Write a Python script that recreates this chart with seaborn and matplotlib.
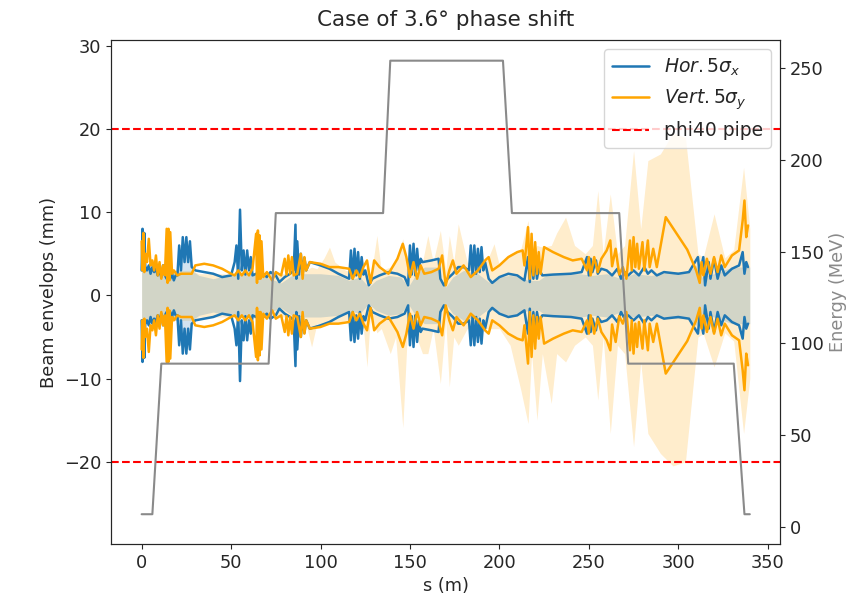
import numpy as np
import matplotlib
matplotlib.use('Agg')
import matplotlib.pyplot as plt
import seaborn as sns

sns.set_style('ticks')
plt.rcParams['font.family'] = ['DejaVu Sans']
plt.rcParams['font.size'] = 12.8

# horizontal envelope, 5 sigma_x (mm), upper half
s_hor = [0, 0.5, 1, 1.5, 2, 3, 4, 5, 6, 7, 8, 9, 10, 11, 12, 13, 14, 15, 16, 17, 18, 19, 20,
         21, 22, 23, 24, 25, 26, 27, 28, 30, 35, 40, 45, 50,
         52, 53, 54, 55, 56, 57, 58, 59, 60, 61, 62, 64, 66, 68, 70, 72, 75, 77, 80, 83, 85,
         86, 86.5, 87, 88, 89, 90, 91, 92, 94, 100, 105, 110, 116,
         117, 118, 119, 120, 121, 122, 123, 124, 125, 127, 129, 133, 138, 143, 147, 149,
         150, 151, 152, 153, 154, 155, 156, 157, 162, 166, 167, 169, 171, 174, 177, 180, 183,
         184, 185, 186, 187, 188, 189, 190, 191, 192, 194, 196, 200, 205, 210, 214,
         216, 217, 218, 219, 220, 221, 222, 224, 230, 240, 246,
         249, 250, 251, 252, 254, 255, 257, 260, 263, 266, 268, 270, 272, 275, 278, 281, 283, 285, 288, 292, 300, 306,
         311, 312, 314, 315, 317, 318, 320, 322, 324, 326, 330, 334, 336, 337, 338, 339]
hor = [3, 8, 3, 7.5, 3.5, 3, 3.6, 2.6, 3.4, 2.8, 3.2, 2.4, 3, 2.2, 3.6, 2.4, 2, 3, 2, 2.6, 1.8, 2.4, 2.4,
       6, 3, 7, 4, 7, 4, 6.5, 3.4, 3, 2.8, 2.6, 2.2, 2.4,
       4, 6, 2, 10.3, 3, 5.4, 2.5, 5.4, 3, 4.6, 2.4, 2.6, 2.4, 2.6, 2.2, 2.8, 2.4, 1.6, 2.2, 2.6, 3,
       8.5, 2, 6.5, 2.5, 5, 2.5, 4.5, 3, 4, 3.6, 3.2, 2.6, 2,
       5.4, 2, 5.6, 2.4, 5.2, 2, 4.6, 2.5, 3, 1.2, 2, 2.4, 2.8, 2.6, 2.2, 1.2,
       6, 2.5, 6.2, 2.4, 5.6, 3, 4.4, 4, 4.2, 4.4, 2, 1.2, 2, 2.6, 3.4, 3.4, 3,
       6, 2.5, 6, 2.6, 5.6, 2.8, 5.8, 3, 4, 2, 1.5, 2.2, 2.6, 2.4, 1.8,
       4.6, 1.6, 5.4, 2, 4.8, 2, 3.2, 2.4, 2.5, 2.6, 2.8,
       4.6, 2.4, 4.4, 2.8, 4.2, 2.6, 3.2, 3, 2.4, 3.2, 2, 2.8, 2.4, 3, 2.4, 3.4, 2.6, 3, 2.4, 2.8, 2.6, 2.8,
       4.6, 2.4, 4.6, 1.2, 4, 2, 4.4, 2, 3.6, 2.4, 3.2, 3.6, 5.2, 2.6, 4, 3.4]

# vertical envelope, 5 sigma_y (mm), upper half
s_vert = [0, 0.5, 1, 1.5, 2, 3, 4, 5, 6, 7, 8, 9, 10, 11, 12, 13,
          14, 14.5, 15, 15.5, 16, 17, 18, 20, 22, 25, 28, 30, 35, 40, 45, 50, 52, 54, 56, 58, 60, 62,
          64, 64.5, 65, 65.5, 66, 66.5, 67, 68, 70, 73, 75, 78, 80, 81, 82, 83, 84, 85, 87, 89, 90, 91, 92, 94,
          100, 105, 110, 116, 118, 120, 122, 124, 126, 128, 130, 133, 138, 143, 146, 148, 150, 152, 154, 156,
          158, 162, 166, 168, 170, 172, 174, 176, 180, 184, 188, 192, 194, 196, 200, 205, 210, 213, 214,
          216, 217, 218, 219, 220, 221, 222, 223, 225, 230, 236, 241, 246, 249, 250, 251, 253, 255, 257, 260,
          262, 263, 265, 267, 269, 271, 273, 274, 275, 276, 277, 278, 280, 281, 283, 284, 286, 288, 293,
          305, 310, 312, 313, 314, 316, 318, 320, 322, 324, 326, 330, 334, 336, 337, 338, 339]
vert = [6.5, 3, 7.5, 2.8, 5, 4, 6.8, 3.6, 4.2, 3, 4.8, 2.4, 4, 2, 3.6, 2.4,
        8, 1.5, 8, 1.8, 7.6, 2.6, 3, 2.4, 2.6, 2.6, 2.6, 3.6, 3.8, 3.6, 3.2, 2.6, 2.4, 3, 2.4, 3, 2.4, 3.2,
        7.4, 1.5, 7.8, 2, 7.2, 2, 6.5, 2.2, 2.8, 1.8, 2.8, 2.4, 4.4, 2.5, 4.8, 2.6, 4.6, 2.4, 2.6, 5, 2, 4.6, 3, 4,
        3.8, 3.4, 3.4, 3.2, 2, 3, 2.2, 3.4, 4.2, 1.5, 4.2, 3.4, 2.6, 4.4, 6.2, 4.6, 2.2, 4, 2, 3.6,
        2.6, 2.8, 3.2, 4.8, 1.2, 3, 4.2, 2.6, 3.6, 2.2, 3, 4.2, 4.6, 3, 3.6, 4.6, 5.2, 5.4, 3.6,
        8.2, 2, 7.4, 2.4, 6.4, 2.6, 5.2, 2.6, 5.8, 5.2, 4.6, 4.2, 4.4, 3, 4.6, 2.4, 4.6, 2.8, 4.4, 5.4,
        6.6, 3.5, 5.6, 2.5, 3.4, 2, 6.6, 3, 7, 3.4, 6.2, 3.2, 6.4, 3, 6.6, 3.4, 5.6, 3.4, 9.4,
        5.5, 3, 1.5, 4, 2.4, 4.4, 2.6, 4.6, 2.8, 4.8, 3.4, 4.8, 5.4, 9, 11.4, 7, 8.4]

# core of the horizontal distribution (blue shade), half width in mm
s_core = [0, 20, 21, 23, 26, 28, 32, 40, 48, 55, 65, 72, 78, 84, 90, 100, 110, 116, 122, 127,
          131, 138, 145, 149, 153, 158, 165, 168, 170, 174, 180, 188, 194, 200, 206, 212, 216, 222, 226, 235,
          245, 252, 260, 268, 275, 285, 295, 305, 310, 313, 320, 330, 340]
core = [3, 3, 3.2, 5.5, 5.5, 3, 2.4, 2, 2.4, 2.6, 2.6, 2, 1.5, 2.4, 2.6, 2.6, 2.4, 1.8, 2.2, 1,
        1.8, 2.4, 2.2, 1, 2.4, 3.4, 3.4, 1.6, 1, 2.2, 3, 2.6, 1.6, 2.2, 2.4, 2.2, 1.8, 1.8, 2.4, 2.6,
        2.6, 2.4, 2.6, 2, 2.6, 2.4, 2.8, 2.8, 3.6, 2.2, 2.6, 3.4, 3.4]

# vertical spread over the error runs (light orange shade)
s_band = [0, 20, 28, 32, 50, 60, 70, 80, 88, 92, 95, 98, 102, 105, 108, 114, 120, 124, 126, 128,
          131.5, 134, 139, 142, 146, 149, 152, 157, 160, 163, 167, 170, 172, 174.5, 177, 182, 188, 194, 197, 200,
          206, 212, 216, 218, 221, 224, 229, 232, 237, 242, 248, 252, 255, 258, 262, 266, 270, 275, 279, 283,
          290, 297, 304, 311, 314, 320, 326, 331, 336.5, 340]
band_hi = [3, 3, 3, 2.6, 2.6, 2.8, 2.6, 2.6, 3, 3, 3.4, 3.2, 4.5, 5.8, 4, 3, 2.8, 3, 3.4, 2,
           7.2, 3, 3.4, 4, 6.8, 2.5, 3, 4, 7.2, 4, 7.8, 3, 7.2, 4, 8.6, 4, 3.6, 4.6, 6.2, 3.6,
           5, 5.6, 9, 5, 6, 5.8, 6, 7.5, 9.4, 6, 5, 6, 12.6, 5, 12.2, 5, 6, 17.4, 8, 16.2,
           17, 19.5, 19, 5, 4.6, 9.8, 4.5, 5.5, 15.4, 8]
band_lo = [-3, -3, -3, -2.6, -2.6, -2.8, -2.6, -2.6, -3, -3.5, -6.2, -3.4, -3.5, -3.5, -3.4, -3, -3, -4, -8.6, -2,
           -4.5, -4, -7, -5, -15.9, -2.5, -4, -7, -7, -4, -10.6, -3, -11, -5, -6, -4, -4, -4, -4, -4,
           -6, -11.4, -15.4, -7, -15, -7, -13, -7, -8, -6, -5, -6, -12.6, -5, -16.6, -6, -7, -18.2, -8, -16.6,
           -19, -20.5, -20, -5, -4.6, -8.6, -4.5, -5.5, -16.6, -10]

# beam energy along the line (MeV)
s_energy = [0, 6, 11, 71, 75, 135, 139, 202, 207, 267, 272, 331, 337, 340]
energy = [7, 7, 89, 89, 171, 171, 254, 254, 171, 171, 89, 89, 7, 7]

pipe_radius = 20

fig, ax = plt.subplots(figsize=(8.49, 5.96), dpi=100)
fig.subplots_adjust(left=0.131, right=0.919, top=0.933, bottom=0.087)

ax.fill_between(s_band, band_lo, band_hi, color='orange', alpha=0.2, lw=0)
ax.fill_between(s_core, -np.array(core), core, color='C0', alpha=0.2, lw=0)

lw = 1.8
sns.lineplot(x=s_hor, y=hor, ax=ax, color='C0', lw=lw, estimator=None, sort=False,
             label=r'$Hor.5\sigma_x$')
sns.lineplot(x=s_hor, y=-np.array(hor), ax=ax, color='C0', lw=lw, estimator=None, sort=False)
sns.lineplot(x=s_vert, y=vert, ax=ax, color='orange', lw=lw, estimator=None, sort=False,
             label=r'$Vert.5\sigma_y$')
sns.lineplot(x=s_vert, y=-np.array(vert), ax=ax, color='orange', lw=lw, estimator=None, sort=False)
ax.axhline(pipe_radius, color='red', ls='--', lw=1.5, label='phi40 pipe')
ax.axhline(-pipe_radius, color='red', ls='--', lw=1.5)

ax.set_xlim(-17, 357)
ax.set_ylim(-29.9, 30.7)
ax.set_yticks([-20, -10, 0, 10, 20, 30])
ax.set_xlabel('s (m)')
ax.set_ylabel('Beam envelops (mm)')
ax.set_title('Case of 3.6° phase shift', fontsize=15.5, pad=10)
handles, labels = ax.get_legend_handles_labels()
if ax.get_legend() is not None:
    ax.get_legend().remove()

ax2 = ax.twinx()
sns.lineplot(x=s_energy, y=energy, ax=ax2, color='#8a8a8a', lw=1.5, estimator=None, sort=False)
ax2.set_ylim(-9.3, 265.3)
ax2.set_ylabel('Energy (MeV)', color='#8a8a8a')
ax2.legend(handles, labels, loc='upper right', fontsize=13.5)

fig.savefig('out.png', dpi=100)
